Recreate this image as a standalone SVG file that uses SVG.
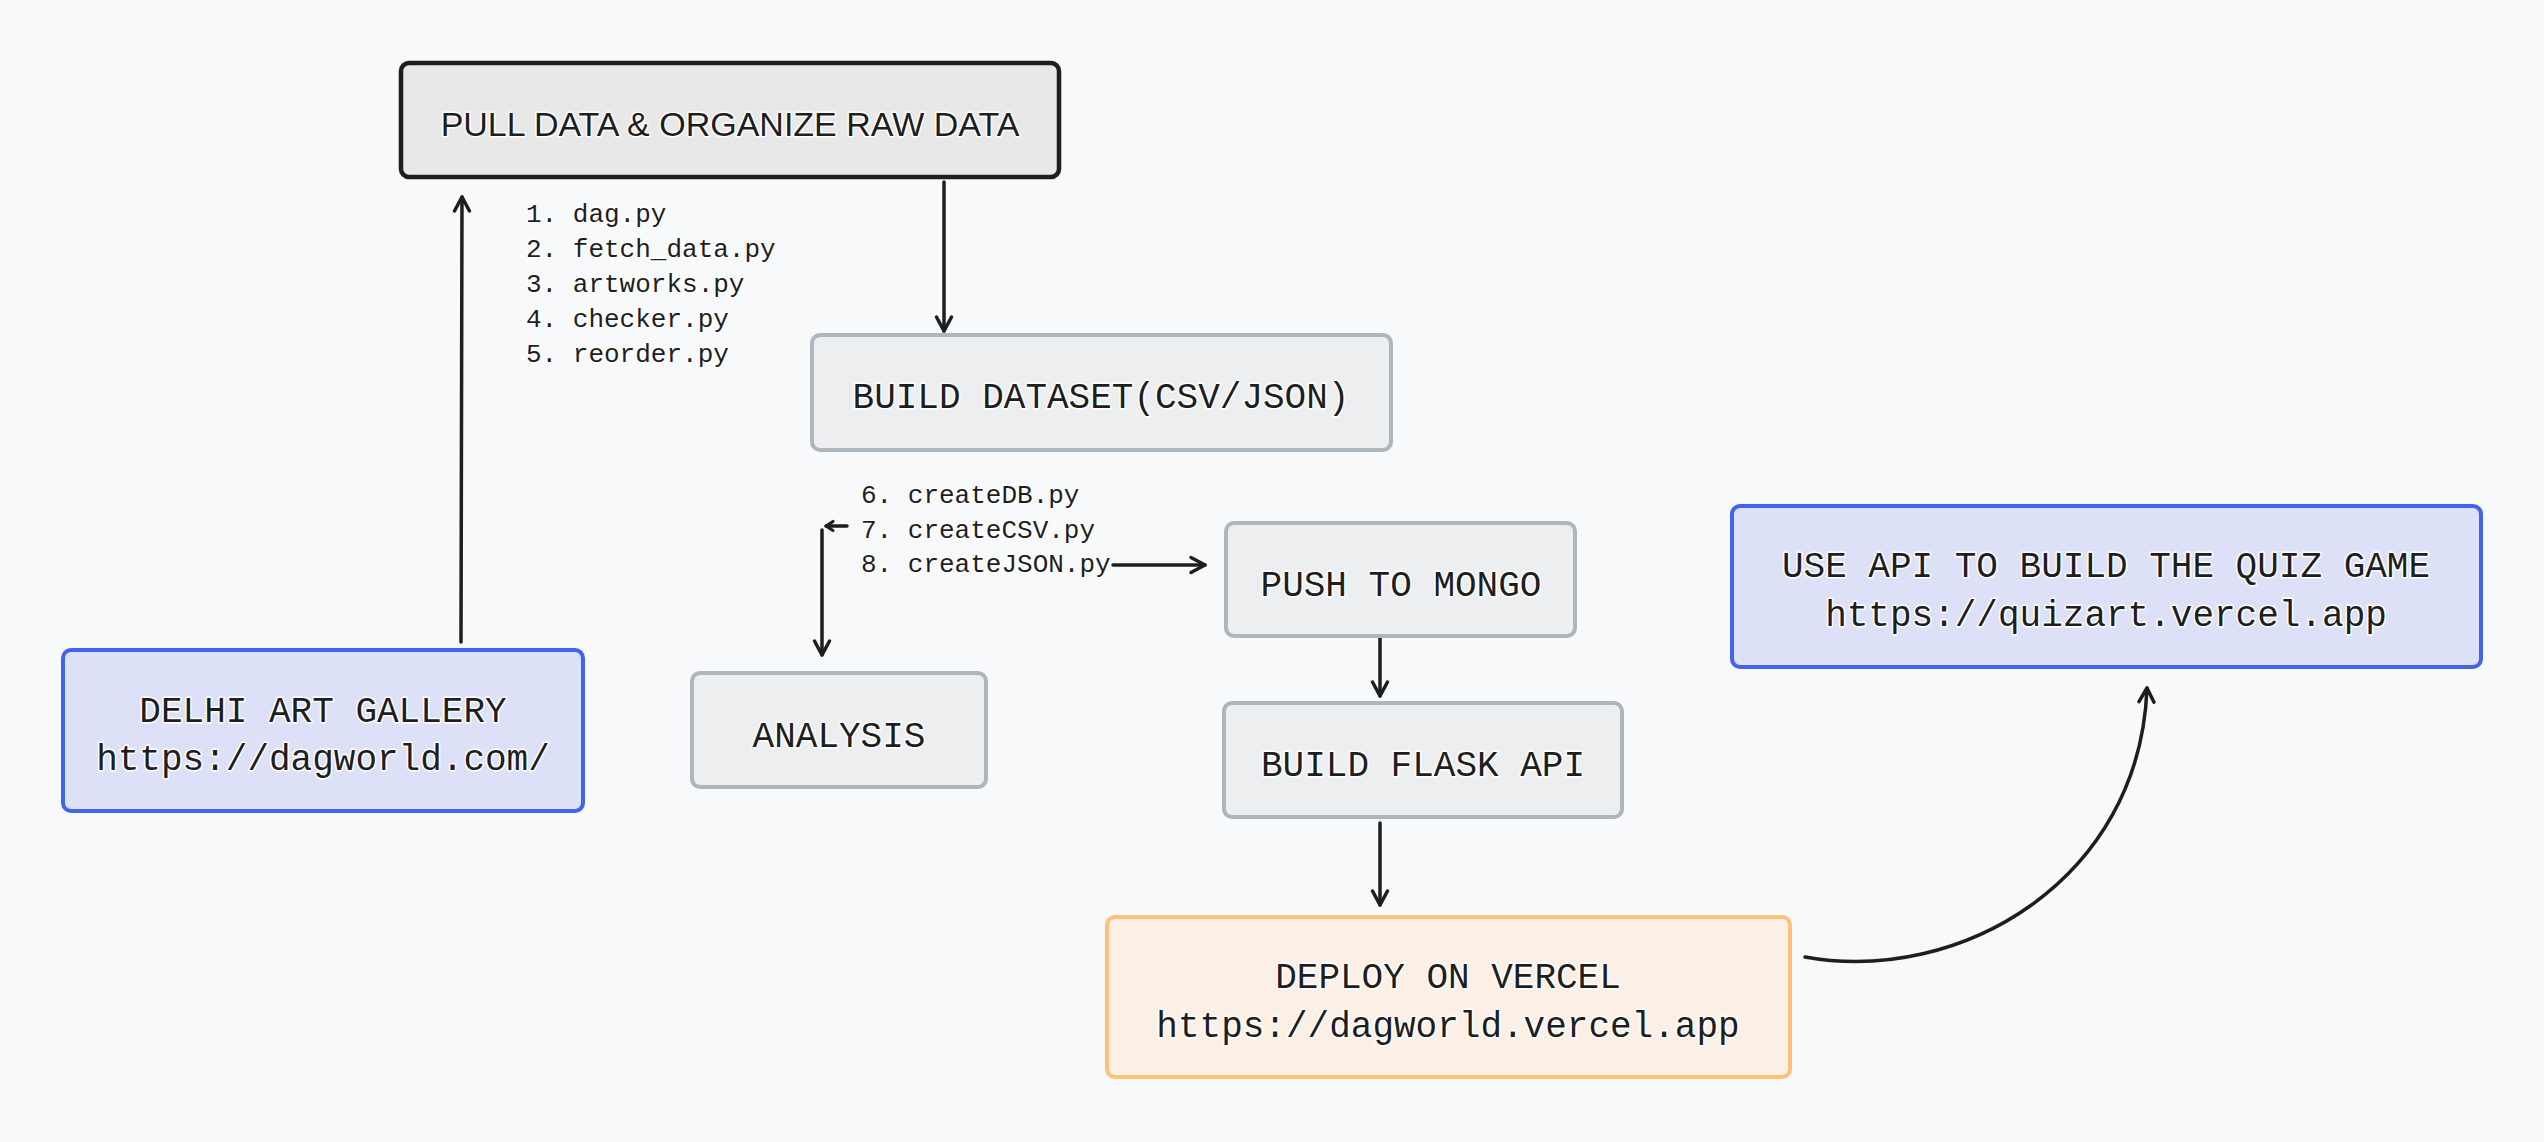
<svg xmlns="http://www.w3.org/2000/svg" width="2544" height="1142" viewBox="0 0 2544 1142">
<style>
.bg{fill:#f8f9fa}
.gray{fill:#eceef0;stroke:#adb5bd;stroke-width:4}
.dark{fill:#e8e8e8;stroke:#1e1e1e;stroke-width:4.5}
.blue{fill:#dce1f8;stroke:#4263eb;stroke-width:4}
.orange{fill:#fcf0e6;stroke:#ffc078;stroke-width:4}
text{fill:#1e1e1e;stroke:#ffffff;stroke-width:3;paint-order:stroke;stroke-linejoin:round}
.mono{font-family:"Liberation Mono","DejaVu Sans Mono",monospace;font-size:36px}
.list{font-family:"Liberation Mono","DejaVu Sans Mono",monospace;font-size:26px}
.sans{font-family:"Liberation Sans",Arial,sans-serif;font-size:34px}
.c{text-anchor:middle}
.conn path{fill:none;stroke:#1e1e1e;stroke-width:3.5;stroke-linecap:round;stroke-linejoin:round}
</style>
<defs>
<marker id="ah" markerUnits="userSpaceOnUse" markerWidth="30" markerHeight="30" refX="0" refY="0" viewBox="-20 -15 30 30" orient="auto">
<path d="M -14 -7.5 L 0 0 L -14 7.5" fill="none" stroke="#1e1e1e" stroke-width="3.5" stroke-linecap="round" stroke-linejoin="round"/>
</marker>
<marker id="ahs" markerUnits="userSpaceOnUse" markerWidth="20" markerHeight="20" refX="0" refY="0" viewBox="-10 -10 20 20" orient="auto">
<path d="M -7 -4.5 L 0 0 L -7 4.5" fill="none" stroke="#1e1e1e" stroke-width="3.2" stroke-linecap="round" stroke-linejoin="round"/>
</marker>
</defs>
<rect class="bg" x="0" y="0" width="2544" height="1142"/>

<g id="connectors" class="conn">
<path d="M 461 642 L 462 197" marker-end="url(#ah)"/>
<path d="M 944 182 L 944 331" marker-end="url(#ah)"/>
<path d="M 847 526 L 826 526" marker-end="url(#ahs)"/>
<path d="M 822 530 L 822 655" marker-end="url(#ah)"/>
<path d="M 1113 565 L 1205 565" marker-end="url(#ah)"/>
<path d="M 1380 638 L 1380 696" marker-end="url(#ah)"/>
<path d="M 1380 823 L 1380 905" marker-end="url(#ah)"/>
<path d="M 1805 957 C 1960 985 2140 880 2147 688" marker-end="url(#ah)"/>
</g>

<g id="node-pull">
<rect class="dark" x="401" y="63" width="658" height="114" rx="8"/>
<text class="sans c" x="730" y="136">PULL DATA &amp; ORGANIZE RAW DATA</text>
</g>

<g id="list-1">
<text class="list" x="526" y="222" xml:space="preserve">1. dag.py</text>
<text class="list" x="526" y="257" xml:space="preserve">2. fetch_data.py</text>
<text class="list" x="526" y="292" xml:space="preserve">3. artworks.py</text>
<text class="list" x="526" y="327" xml:space="preserve">4. checker.py</text>
<text class="list" x="526" y="362" xml:space="preserve">5. reorder.py</text>
</g>

<g id="node-dataset">
<rect class="gray" x="812" y="335" width="579" height="115" rx="8"/>
<text class="mono c" x="1101" y="408">BUILD DATASET(CSV/JSON)</text>
</g>

<g id="list-2">
<text class="list" x="861" y="503" xml:space="preserve">6. createDB.py</text>
<text class="list" x="861" y="538" xml:space="preserve">7. createCSV.py</text>
<text class="list" x="861" y="572" xml:space="preserve">8. createJSON.py</text>
</g>

<g id="node-delhi">
<rect class="blue" x="63" y="650" width="520" height="161" rx="8"/>
<text class="mono c" x="323" y="722">DELHI ART GALLERY</text>
<text class="mono c" x="323" y="770">https://dagworld.com/</text>
</g>

<g id="node-analysis">
<rect class="gray" x="692" y="673" width="294" height="114" rx="8"/>
<text class="mono c" x="839" y="747">ANALYSIS</text>
</g>

<g id="node-mongo">
<rect class="gray" x="1226" y="523" width="349" height="113" rx="8"/>
<text class="mono c" x="1401" y="596">PUSH TO MONGO</text>
</g>

<g id="node-flask">
<rect class="gray" x="1224" y="703" width="398" height="114" rx="8"/>
<text class="mono c" x="1423" y="776">BUILD FLASK API</text>
</g>

<g id="node-deploy">
<rect class="orange" x="1107" y="917" width="683" height="160" rx="8"/>
<text class="mono c" x="1448" y="988">DEPLOY ON VERCEL</text>
<text class="mono c" x="1448" y="1037">https://dagworld.vercel.app</text>
</g>

<g id="node-quiz">
<rect class="blue" x="1732" y="506" width="749" height="161" rx="8"/>
<text class="mono c" x="2106" y="577">USE API TO BUILD THE QUIZ GAME</text>
<text class="mono c" x="2106" y="626">https://quizart.vercel.app</text>
</g>
</svg>
